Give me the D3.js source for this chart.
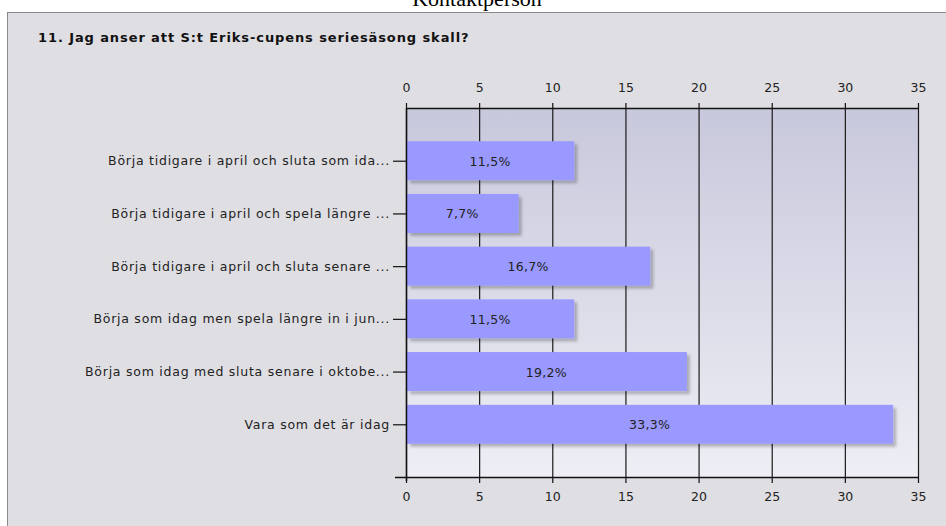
<!DOCTYPE html>
<html>
<head>
<meta charset="utf-8">
<script src="https://cdn.jsdelivr.net/npm/d3@7"></script>
<style>
  body { margin: 0; background: #ffffff; }
  svg { display: block; }
</style>
</head>
<body>
<div id="chart"></div>
<script>
// survey question 11, answers in percent
let categories = [
    "Börja tidigare i april och sluta som ida...",
    "Börja tidigare i april och spela längre ...",
    "Börja tidigare i april och sluta senare ...",
    "Börja som idag men spela längre in i jun...",
    "Börja som idag med sluta senare i oktobe...",
    "Vara som det är idag"
];
let values = [11.5, 7.7, 16.7, 11.5, 19.2, 33.3];
let valueLabels = ["11,5%", "7,7%", "16,7%", "11,5%", "19,2%", "33,3%"];
let xTicks = [0, 5, 10, 15, 20, 25, 30, 35];
let title = "11. Jag anser att S:t Eriks-cupens seriesäsong skall?";

let width = 946, height = 526;
let plotLeft = 406, plotRight = 918, plotTop = 108, plotBottom = 477;

let svg = d3.select("#chart").append("svg")
    .attr("width", width)
    .attr("height", height);

let defs = svg.append("defs");
let grad = defs.append("linearGradient")
    .attr("id", "plotbg")
    .attr("x1", 0).attr("y1", 0).attr("x2", 0).attr("y2", 1);
grad.append("stop").attr("offset", "0%").attr("stop-color", "#c8c8dc");
grad.append("stop").attr("offset", "100%").attr("stop-color", "#eeeef5");

let shadow = defs.append("filter").attr("id", "shadow")
    .attr("x", "-5%").attr("y", "-20%").attr("width", "115%").attr("height", "150%");
shadow.append("feGaussianBlur").attr("in", "SourceAlpha").attr("stdDeviation", 1.5);
shadow.append("feOffset").attr("dx", 3).attr("dy", 3).attr("result", "blur");
shadow.append("feComponentTransfer").append("feFuncA").attr("type", "linear").attr("slope", 0.25);
let merge = shadow.append("feMerge");
merge.append("feMergeNode");
merge.append("feMergeNode").attr("in", "SourceGraphic");

// page heading cut at the top
svg.append("text")
    .attr("x", 477)
    .attr("y", 6)
    .attr("text-anchor", "middle")
    .style("font-family", "'Liberation Serif', serif")
    .style("font-size", "22px")
    .style("fill", "#000")
    .text("Kontaktperson");

// panel
svg.append("rect")
    .attr("x", 7.5).attr("y", 12.5)
    .attr("width", width).attr("height", height)
    .style("fill", "#dfdee3")
    .style("stroke", "#8a8a8a")
    .style("stroke-width", 1);

svg.append("text")
    .attr("x", 38)
    .attr("y", 42)
    .style("font-family", "'DejaVu Sans', sans-serif")
    .style("font-weight", "bold")
    .style("font-size", "13px")
    .style("letter-spacing", "0.9px")
    .style("fill", "#111")
    .text(title);

let x = d3.scaleLinear().domain([0, 35]).range([plotLeft, plotRight]);
let y = d3.scalePoint().domain(categories).range([plotTop, plotBottom]).padding(1);
let barH = 39;

// plot background
svg.append("rect")
    .attr("x", plotLeft).attr("y", plotTop)
    .attr("width", plotRight - plotLeft).attr("height", plotBottom - plotTop)
    .style("fill", "url(#plotbg)");

// grid lines
svg.selectAll()
    .data(xTicks)
    .enter()
    .append("line")
    .attr("x1", d => x(d) + 0.5)
    .attr("x2", d => x(d) + 0.5)
    .attr("y1", plotTop)
    .attr("y2", plotBottom)
    .style("stroke", "#1a1a1a")
    .style("stroke-width", 1.2);

// bars
svg.selectAll()
    .data(values)
    .enter()
    .append("rect")
    .attr("x", x(0) + 1)
    .attr("y", (d, i) => y(categories[i]) - barH / 2)
    .attr("width", d => x(d) - x(0) - 1)
    .attr("height", barH)
    .style("fill", "#9999ff")
    .style("filter", "url(#shadow)");

svg.selectAll()
    .data(values)
    .enter()
    .append("text")
    .attr("x", d => (x(0) + x(d)) / 2)
    .attr("y", (d, i) => y(categories[i]) + 5)
    .attr("text-anchor", "middle")
    .style("font-family", "'DejaVu Sans', sans-serif")
    .style("font-size", "12.5px")
    .style("letter-spacing", "0.3px")
    .style("fill", "#222")
    .text((d, i) => valueLabels[i]);

let axisStyle = function (g) {
    g.select(".domain").remove();
    g.selectAll("line").style("stroke", "#111").style("stroke-width", 1.2);
    g.selectAll("text")
        .style("font-family", "'DejaVu Sans', sans-serif")
        .style("font-size", "12.5px")
        .style("fill", "#222");
};

// top and bottom axes
svg.append("g")
    .attr("transform", "translate(0," + plotTop + ")")
    .call(d3.axisTop(x).tickValues(xTicks).tickSize(5).tickPadding(11))
    .call(axisStyle);

svg.append("g")
    .attr("transform", "translate(0," + plotBottom + ")")
    .call(d3.axisBottom(x).tickValues(xTicks).tickSize(6).tickPadding(9))
    .call(axisStyle);

// y axis
svg.append("g")
    .attr("transform", "translate(" + plotLeft + ",0)")
    .call(d3.axisLeft(y).tickSize(13).tickPadding(3))
    .call(axisStyle)
    .call(g => g.selectAll("text").style("letter-spacing", "0.75px"));

// frame lines
svg.append("line")
    .attr("x1", plotLeft - 11).attr("x2", plotRight + 0.5)
    .attr("y1", plotBottom + 0.5).attr("y2", plotBottom + 0.5)
    .style("stroke", "#111").style("stroke-width", 1.5);
svg.append("line")
    .attr("x1", plotLeft).attr("x2", plotRight + 0.5)
    .attr("y1", plotTop + 0.5).attr("y2", plotTop + 0.5)
    .style("stroke", "#111").style("stroke-width", 1.5);
svg.append("line")
    .attr("x1", plotLeft + 0.5).attr("x2", plotLeft + 0.5)
    .attr("y1", plotTop).attr("y2", plotBottom + 4)
    .style("stroke", "#111").style("stroke-width", 1.5);
</script>
</body>
</html>
